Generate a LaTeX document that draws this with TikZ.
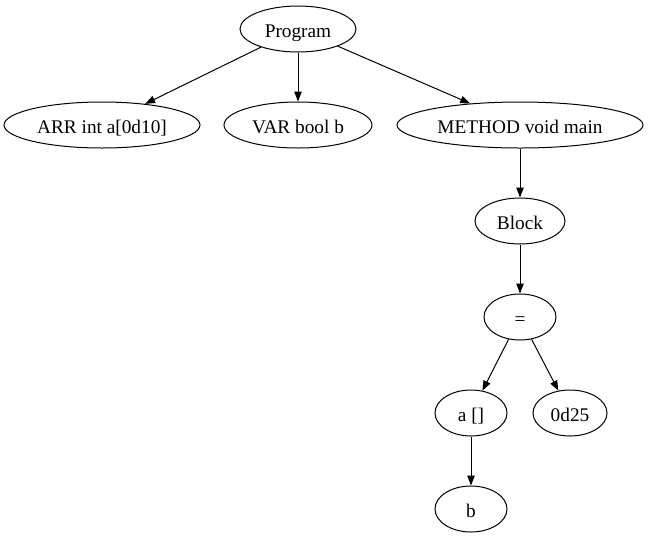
\documentclass[tikz,border=0pt]{standalone}
\usepackage{fontspec}
\setmainfont{Liberation Serif}
\usetikzlibrary{arrows.meta,shapes.geometric}
\tikzset{
  tnode/.style={draw, ellipse, inner sep=0pt, line width=1pt, minimum height=46pt, text height=18pt, text depth=2pt, font=\fontsize{19.3pt}{22pt}\selectfont},
  tedge/.style={-{Triangle[length=10pt,width=7.5pt]}, line width=1pt}
}

\begin{document}
\begin{tikzpicture}[x=1pt,y=-1pt]
			%%%%% START %%%%%
			\useasboundingbox (0, 0) rectangle (651, 539);
			
			\node[tnode, minimum width=116pt] (prog) at (298, 29) {Program};
			
			\node[tnode, minimum width=196pt] (arr) at (102, 125) {ARR int a[0d10]};
			\node[tnode, minimum width=148pt] (var) at (298, 125) {VAR bool b};
			\node[tnode, minimum width=246pt] (meth) at (520, 125) {METHOD void main};
			
			\node[tnode, minimum width=90pt] (block) at (520, 221) {Block};
			\node[tnode, minimum width=72pt] (assign) at (520, 317) {=};
			
			\node[tnode, minimum width=72pt] (arrref) at (471, 413) {a []};
			\node[tnode, minimum width=74pt] (lit) at (570, 413) {0d25};
			\node[tnode, minimum width=72pt] (idx) at (471, 509) {b};
			
			\draw[tedge] (prog) -- (arr);
			\draw[tedge] (prog) -- (var);
			\draw[tedge] (prog) -- (meth);
			\draw[tedge] (meth) -- (block);
			\draw[tedge] (block) -- (assign);
			\draw[tedge] (assign) -- (arrref);
			\draw[tedge] (assign) -- (lit);
			\draw[tedge] (arrref) -- (idx);
			
			%%%%% END %%%%%
		\end{tikzpicture}
\end{document}
